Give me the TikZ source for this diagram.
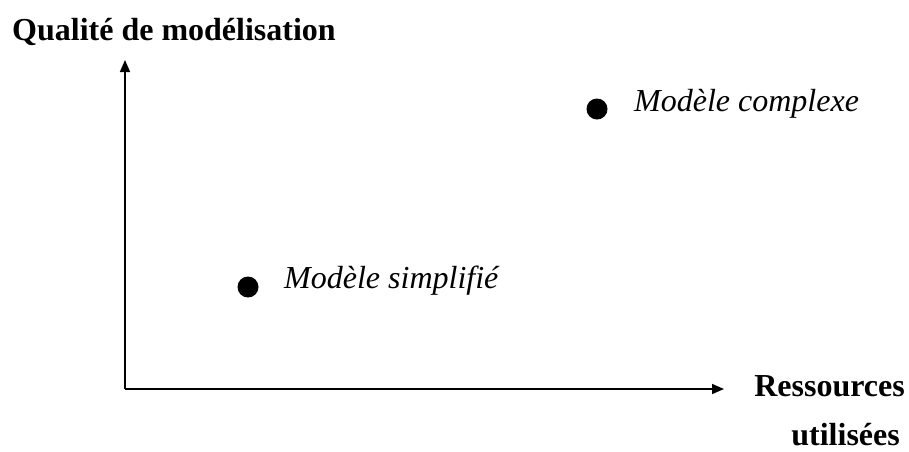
\documentclass[tikz,border=0pt]{standalone}
\usepackage{fontspec}
\setmainfont{Liberation Serif}
\usetikzlibrary{arrows.meta}
\begin{document}
\begin{tikzpicture}[x=1pt,y=-1pt,
  axis/.style={line width=1.6pt,-{Triangle[length=12pt,width=10pt]}},
  dot/.style={circle,fill=black,inner sep=0pt,minimum size=21pt},
  lab/.style={font=\fontsize{32}{38}\selectfont\bfseries,inner sep=0pt},
  ilab/.style={font=\fontsize{32}{38}\selectfont\itshape,inner sep=0pt}]
\useasboundingbox (0,0) rectangle (909,451);
\coordinate (o) at (125,389);
\coordinate (ytop) at (125,60);
\coordinate (xend) at (724,389);
\draw[axis] (o) -- (ytop);
\draw[axis] (o) -- (xend);
\node[lab,anchor=base west] (ylab) at (12,40) {Qualité de modélisation};
\node[lab,anchor=base east] (xlab1) at (905,396) {Ressources};
\node[lab,anchor=base east] (xlab2) at (900,445) {utilisées};
\node[dot] (d1) at (248,287) {};
\node[dot] (d2) at (597,109) {};
\node[ilab,anchor=base west] (t1) at (284,288) {Modèle simplifié};
\node[ilab,anchor=base west] (t2) at (634,111) {Modèle complexe};
\end{tikzpicture}
\end{document}
